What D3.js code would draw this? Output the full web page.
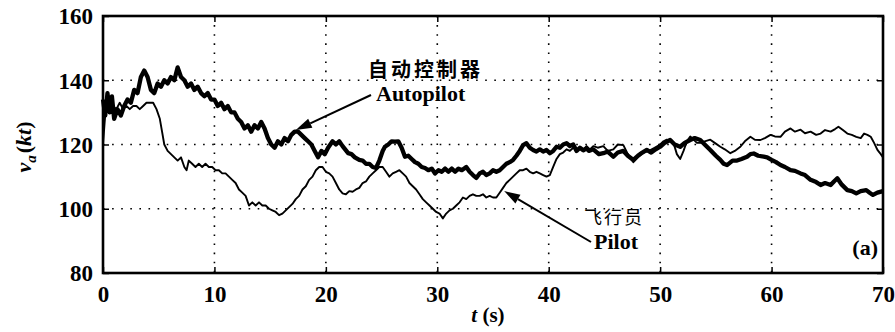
<!DOCTYPE html>
<html>
<head>
<meta charset="utf-8">
<script src="https://cdn.jsdelivr.net/npm/d3@7"></script>
<style>
  body { margin: 0; background: #fff; }
  svg { display: block; }
  .tick text { font-family: "Liberation Serif", serif; font-weight: bold; font-size: 23px; fill: #000; }
</style>
</head>
<body>
<svg id="chart" width="895" height="332"></svg>
<script>
// axis ticks
var xTicks = [0, 10, 20, 30, 40, 50, 60, 70];
var yTicks = [80, 100, 120, 140, 160];

// autopilot (thick line): [t (s), va (kt)]
var autopilot = [
  [0,134],[0.2,129],[0.4,136],[0.6,130],[0.8,135],[1.0,128],[1.3,131],[1.6,129],[1.9,132],[2.2,134],
  [2.5,133],[2.8,137],[3.1,136],[3.4,141],[3.7,143],[4.0,141],[4.3,137],[4.6,136],[4.9,139],[5.2,138],
  [5.5,140],[5.8,139],[6.1,141],[6.4,140],[6.7,144],[7.0,141],[7.3,140],[7.6,138],[7.9,139],[8.2,137],
  [8.5,138],[8.8,136],[9.1,135],[9.4,136],[9.7,134],[10.0,134],[10.3,132],[10.6,133],[10.9,131],[11.2,132],
  [11.5,130],[11.8,130],[12.1,128],[12.4,127],[12.7,125],[13.0,126],[13.3,124],[13.6,126],[13.9,125],[14.2,127],
  [14.5,125],[14.8,122],[15.1,120],[15.4,119],[15.7,121],[16.0,120],[16.3,122],[16.6,121],[16.9,123],[17.2,124],
  [17.5,124],[17.8,123],[18.1,122],[18.4,121],[18.7,120],[19.0,118],[19.3,116],[19.6,118],[19.9,117],[20.2,119],
  [20.6,121],[20.9,120],[21.2,121],[21.5,119.5],[22.0,117.3],[22.3,117],[22.6,116],[23.0,115.2],[23.3,115],[23.6,114],
  [23.9,114],[24.2,113],[24.5,112.7],[24.8,115],[25.1,118],[25.3,119.3],[25.6,120],[25.9,121],[26.2,120.9],[26.5,121],
  [26.8,119],[27.1,116.2],[27.4,116.5],[27.7,115.5],[28.0,114.5],[28.3,114],[28.6,113],[28.9,112.7],[29.2,112],[29.5,112.5],
  [29.8,111],[30.1,112],[30.4,111.5],[30.7,112.5],[31.0,111.5],[31.3,112.5],[31.6,111.5],[31.9,112.5],[32.2,112],[32.6,113],
  [32.9,111.5],[33.2,110.5],[33.5,109.6],[33.8,111],[34.1,111.5],[34.4,110.5],[34.7,111],[35.0,112],[35.3,111.5],[35.6,112],
  [35.9,113],[36.2,114],[36.5,114.5],[36.8,115.2],[37.1,116.5],[37.4,118],[37.7,119.8],[38.0,120.4],[38.3,119],[38.6,118.3],
  [38.9,117.8],[39.2,118.5],[39.5,117.8],[39.8,118.3],[40.1,117.3],[40.4,118],[40.7,119.3],[41.0,119],[41.3,120],[41.6,120.4],
  [41.9,119.5],[42.2,120],[42.5,118],[42.8,119],[43.1,118.2],[43.4,118.8],[43.6,118],[44.0,118.5],[44.5,117],[44.9,117.3],
  [45.3,117.8],[45.8,116.2],[46.2,117.5],[46.7,118],[47.1,116.5],[47.6,115.2],[48.0,116.5],[48.4,117.5],[48.8,118.3],[49.2,117.5],
  [49.6,118.5],[50.0,119.3],[50.4,120.5],[50.9,121.4],[51.3,120],[51.8,119.3],[52.2,120.5],[52.7,121.4],[53.1,122],[53.6,121.4],
  [54.0,120],[54.5,118.3],[55.0,116.5],[55.4,115.2],[55.7,114],[56.0,113.6],[56.5,115],[56.9,115],[57.3,115.5],[57.8,116.2],
  [58.1,117],[58.4,117.2],[58.8,116.5],[59.3,116.2],[59.6,116],[60.0,115.2],[60.4,114.5],[60.8,113.6],[61.2,113],[61.7,112],
  [62.1,111.8],[62.6,111],[63.0,110.5],[63.5,109],[64.0,108.3],[64.4,107.4],[64.8,108],[65.3,107.4],[65.6,108.5],[65.9,109.5],
  [66.3,107.5],[66.8,105.8],[67.2,105.5],[67.6,104.8],[68.0,105.5],[68.5,105.8],[68.8,105],[69.1,104.3],[69.5,105],[70.0,105.5]
];

// pilot (thin line): [t (s), va (kt)]
var pilot = [
  [0,120],[0.15,127],[0.3,133],[0.6,131],[0.9,132],[1.2,131],[1.5,133],[1.8,131],[2.1,132],[2.4,131],
  [2.7,132],[3.0,132],[3.3,131],[3.6,132],[3.9,133],[4.2,133],[4.5,133],[4.8,131],[5.1,128],[5.3,124],
  [5.5,120],[5.8,118],[6.1,117],[6.4,116],[6.7,115],[7.0,116],[7.3,113],[7.5,112],[7.7,115],[8.0,114],
  [8.3,113],[8.6,114],[8.9,113],[9.2,114],[9.5,113],[9.8,113],[10.1,112],[10.4,112],[10.7,111],[11.0,111],
  [11.3,110],[11.6,109],[11.9,108],[12.2,106],[12.5,105],[12.8,104],[13.1,101],[13.4,102],[13.7,101],[14.0,102],
  [14.3,101],[14.6,101],[14.9,100],[15.2,99.5],[15.5,99],[15.8,98],[16.1,98.5],[16.4,99.5],[16.7,100.5],[17.0,101.5],
  [17.3,103],[17.6,104],[17.9,106],[18.2,107],[18.5,109],[18.8,110],[19.1,112],[19.4,113],[19.7,113],[20.0,111.5],
  [20.3,111],[20.6,110],[20.9,108],[21.2,106],[21.5,104.8],[21.8,104.5],[22.1,105.5],[22.4,105.3],[22.7,106],[23.0,106.5],
  [23.3,108],[23.6,108.5],[23.9,110],[24.2,111],[24.5,112],[24.8,113],[25.1,113],[25.4,111.5],[25.7,110],[26.0,111],
  [26.3,111.5],[26.6,112],[26.9,111],[27.2,110],[27.5,108],[27.8,107],[28.1,106],[28.4,104.5],[28.7,103],[29.0,102],
  [29.3,101],[29.6,100],[29.9,99],[30.2,98.5],[30.5,97],[30.8,98.5],[31.1,99.5],[31.4,100],[31.7,101],[32.0,102],
  [32.3,103.5],[32.6,103],[32.9,104],[33.2,104.5],[33.5,104],[33.8,104],[34.1,104.5],[34.4,103.5],[34.7,104],[35.0,103.5],
  [35.3,103.5],[35.6,105],[35.9,106.5],[36.2,108],[36.5,109],[36.8,110],[37.1,111],[37.4,112],[37.7,112],[38.0,112.5],
  [38.3,111.5],[38.6,111],[38.9,111.5],[39.2,111],[39.5,110.5],[39.8,110],[40.1,110.5],[40.4,113],[40.7,115.5],[41.0,117],
  [41.3,117.5],[41.6,118.5],[41.9,118],[42.2,119],[42.5,118.5],[42.8,119],[43.1,118.5],[43.4,119.5],[43.7,118.5],[44.0,119.5],
  [44.4,119],[44.9,119.5],[45.3,118],[45.8,118.5],[46.2,120],[46.7,119.8],[47.1,117],[47.6,114.5],[48.0,116],[48.5,117.5],
  [49.0,118],[49.5,119],[50.0,120],[50.3,121],[50.6,121.5],[51.0,121],[51.2,120.5],[51.5,117],[51.8,115.5],[52.1,118],
  [52.4,121],[52.7,122.5],[53.0,121.5],[53.3,120.5],[53.6,120.5],[54.0,121],[54.5,121.5],[54.9,120.5],[55.4,119.3],[55.8,118.5],
  [56.3,117.3],[56.7,118],[57.2,119.3],[57.6,121],[58.1,122.4],[58.5,121.5],[59.0,121.4],[59.4,122],[59.9,123],[60.3,122.5],
  [60.8,122.4],[61.2,124],[61.7,125],[62.1,124],[62.6,124.6],[63.0,123.5],[63.5,124],[64.0,123],[64.4,123.4],[64.8,124.5],
  [65.3,124],[65.7,124.8],[66.0,125.5],[66.4,124.5],[66.8,123.4],[67.2,123],[67.6,122.4],[68.0,122],[68.3,123.4],[68.6,123],
  [68.9,122.4],[69.2,120.5],[69.5,118.3],[69.8,117],[70.0,116]
];

var svg = d3.select("#chart");
var plotL = 103, plotR = 883, plotT = 16, plotB = 273;

var x = d3.scaleLinear().domain([0, 70]).range([plotL, plotR]);
var y = d3.scaleLinear().domain([80, 160]).range([plotB, plotT]);

// dotted grid
var grid = svg.append("g").attr("stroke", "#000").attr("stroke-width", 1.6).attr("stroke-dasharray", "1.6,7.5");
grid.selectAll(".gx").data(xTicks.slice(1, -1)).enter().append("line")
  .attr("x1", d => x(d)).attr("x2", d => x(d)).attr("y1", plotT).attr("y2", plotB);
grid.selectAll(".gy").data(yTicks.slice(1, -1)).enter().append("line")
  .attr("y1", d => y(d)).attr("y2", d => y(d)).attr("x1", plotL).attr("x2", plotR);

// axes with inward ticks
var xAxis = svg.append("g").attr("transform", "translate(0," + plotB + ")")
  .call(d3.axisBottom(x).tickValues(xTicks).tickSize(-6).tickPadding(9));
svg.append("g").attr("transform", "translate(0," + plotT + ")")
  .call(d3.axisTop(x).tickValues(xTicks).tickSize(-6).tickFormat(""));
var yAxis = svg.append("g").attr("transform", "translate(" + plotL + ",0)")
  .call(d3.axisLeft(y).tickValues(yTicks).tickSize(-6).tickPadding(10));
svg.append("g").attr("transform", "translate(" + plotR + ",0)")
  .call(d3.axisRight(y).tickValues(yTicks).tickSize(-6).tickFormat(""));
svg.selectAll(".domain").remove();
svg.selectAll(".tick line").attr("stroke", "#000").attr("stroke-width", 1.5);
xAxis.selectAll(".tick text").attr("dy", "0.85em");
yAxis.selectAll(".tick text").attr("dy", "0.34em");

// frame
svg.append("rect").attr("x", plotL).attr("y", plotT).attr("width", plotR - plotL).attr("height", plotB - plotT)
  .attr("fill", "none").attr("stroke", "#000").attr("stroke-width", 2.6);

var line = d3.line().x(d => x(d[0])).y(d => y(d[1]));

svg.append("path").datum(pilot).attr("d", line)
  .attr("fill", "none").attr("stroke", "#000").attr("stroke-width", 1.9).attr("stroke-linejoin", "round");
svg.append("path").datum(autopilot).attr("d", line)
  .attr("fill", "none").attr("stroke", "#000").attr("stroke-width", 4.3).attr("stroke-linejoin", "round");

// annotations
function arrow(x1, y1, x2, y2) {
  var a = Math.atan2(y2 - y1, x2 - x1), len = 16, hw = 5;
  var bx = x2 - len * Math.cos(a), by = y2 - len * Math.sin(a);
  svg.append("line").attr("x1", x1).attr("y1", y1).attr("x2", bx).attr("y2", by)
    .attr("stroke", "#000").attr("stroke-width", 2);
  svg.append("path")
    .attr("d", "M" + x2 + "," + y2 +
      "L" + (bx + hw * Math.sin(a)) + "," + (by - hw * Math.cos(a)) +
      "L" + (bx - hw * Math.sin(a)) + "," + (by + hw * Math.cos(a)) + "Z")
    .attr("fill", "#000");
}

var serif = "'Liberation Serif', serif";
var cjk = "'Noto Sans CJK SC', sans-serif";

svg.append("text").attr("x", 368).attr("y", 77).attr("font-family", cjk).attr("font-weight", "bold")
  .attr("font-size", 20).attr("letter-spacing", 3).text("自动控制器");
svg.append("text").attr("x", 376).attr("y", 101).attr("font-family", serif).attr("font-weight", "bold")
  .attr("font-size", 22).text("Autopilot");
arrow(371, 95, x(17.3), y(124.5));

svg.append("text").attr("x", 584).attr("y", 224).attr("font-family", cjk)
  .attr("font-size", 18).attr("letter-spacing", 2).text("飞行员");
svg.append("text").attr("x", 594).attr("y", 249).attr("font-family", serif).attr("font-weight", "bold")
  .attr("font-size", 22).text("Pilot");
arrow(591, 242, x(36), y(105.5));

svg.append("text").attr("x", 878).attr("y", 255).attr("text-anchor", "end").attr("font-family", serif)
  .attr("font-weight", "bold").attr("font-size", 22).text("(a)");

// axis titles
var yl = svg.append("text").attr("transform", "translate(31,147) rotate(-90)").attr("text-anchor", "middle")
  .attr("font-family", serif).attr("font-weight", "bold").attr("font-size", 22);
yl.append("tspan").attr("font-style", "italic").text("v");
yl.append("tspan").attr("font-style", "italic").attr("font-size", 15).attr("dy", 5).text("a");
yl.append("tspan").attr("dy", -5).attr("dx", 2).text("(");
yl.append("tspan").attr("font-style", "italic").text("kt");
yl.append("tspan").text(")");

var xl = svg.append("text").attr("x", 488).attr("y", 322).attr("text-anchor", "middle")
  .attr("font-family", serif).attr("font-weight", "bold").attr("font-size", 21);
xl.append("tspan").attr("font-style", "italic").text("t");
xl.append("tspan").text(" (s)");
</script>
</body>
</html>
